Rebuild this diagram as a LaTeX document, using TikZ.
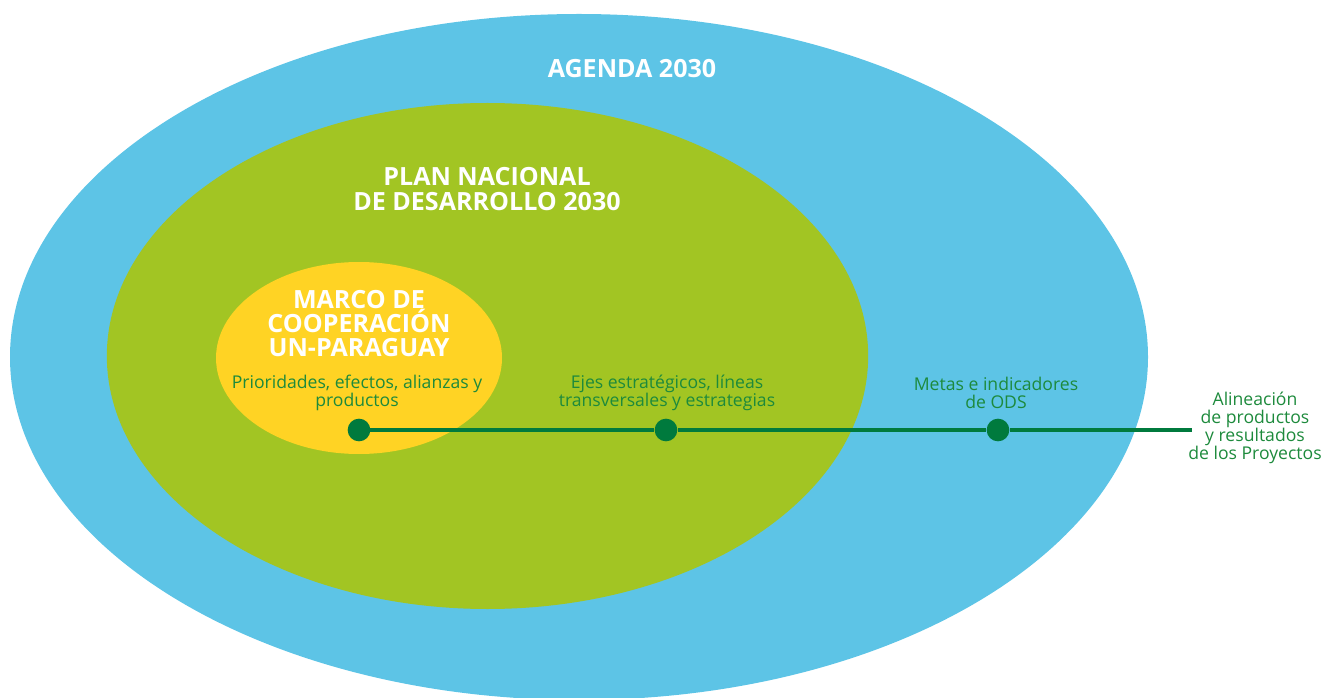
\documentclass[tikz,border=0pt]{standalone}
\usepackage{fontspec}
\setmainfont{Open Sans}
\usetikzlibrary{shapes.geometric}
\definecolor{agblue}{HTML}{5DC4E6}
\definecolor{plgreen}{HTML}{A2C523}
\definecolor{mcyellow}{HTML}{FFD324}
\definecolor{dkgreen}{HTML}{007A3D}
\definecolor{txgreen}{HTML}{1D8A3C}
\tikzset{
  zone/.style={ellipse, inner sep=0pt, draw=none},
  title/.style={text=white, font=\bfseries\fontsize{18.8}{18.8}\selectfont, align=center, inner sep=0pt},
  desc/.style={text=txgreen, font=\fontsize{13.2}{13.4}\selectfont, align=center, inner sep=0pt},
  dot/.style={circle, fill=dkgreen, minimum size=17pt, inner sep=0pt},
  link/.style={draw=dkgreen, line width=2.3pt}
}
\begin{document}
\begin{tikzpicture}[x=0.75pt,y=-0.75pt]
\useasboundingbox (0,0) rectangle (1323,698);
\node[zone, fill=agblue, minimum width=853.5pt, minimum height=514.5pt] (agenda) at (579,357) {};
\node[zone, fill=plgreen, minimum width=571pt, minimum height=379.5pt] (plan) at (487.5,356) {};
\node[zone, fill=mcyellow, minimum width=214.5pt, minimum height=144pt] (marco) at (359,358) {};
\node[title] (tagenda) at (632,69) {AGENDA 2030};
\node[title] (tplan) at (487,189) {PLAN NACIONAL\\DE DESARROLLO 2030};
\node[title, font=\bfseries\fontsize{18.8}{18}\selectfont] (tmarco) at (359,324) {MARCO DE\\COOPERACIÓN\\UN-PARAGUAY};
\node[desc] (dmarco) at (357,393) {Prioridades, efectos, alianzas y\\productos};
\node[desc] (dplan) at (667,393) {Ejes estratégicos, líneas\\transversales y estrategias};
\node[desc] (dagenda) at (996,393) {Metas e indicadores\\de ODS};
\node[desc] (dproy) at (1255,428) {Alineación\\de productos\\y resultados\\de los Proyectos};
\coordinate (lend) at (1192,430);
\node[dot] (d1) at (359,430) {};
\node[dot] (d2) at (666,430) {};
\node[dot] (d3) at (998,430) {};
\draw[link] (d1.center) -- (d2) -- (d3) -- (lend);
\end{tikzpicture}
\end{document}
